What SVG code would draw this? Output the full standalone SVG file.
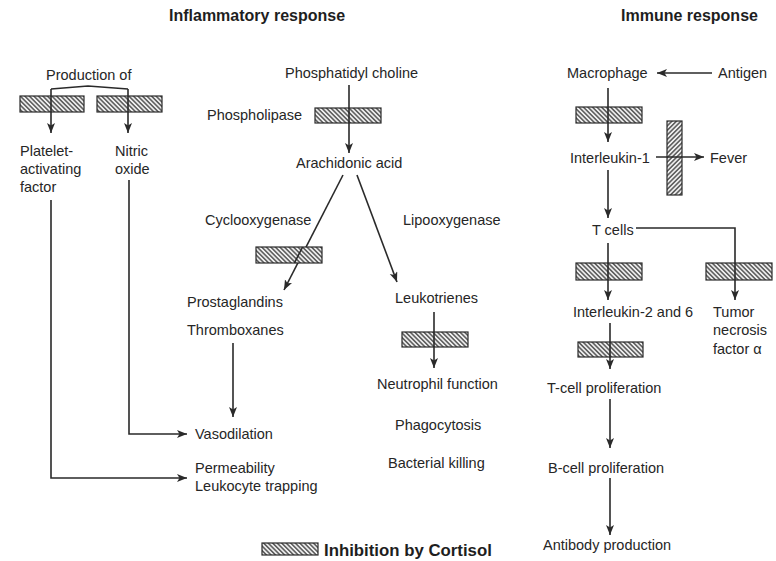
<svg xmlns="http://www.w3.org/2000/svg" width="776" height="561" viewBox="0 0 776 561">
  <style>
    .t { font-family: "Liberation Sans", Arial, sans-serif; font-size: 14.5px; fill: #262626; }
    .h { font-family: "Liberation Sans", Arial, sans-serif; font-size: 16px; font-weight: bold; fill: #1e1e1e; }
    .ln { fill: none; stroke: #2a2a2a; stroke-width: 1.6; }
    .arr { fill: none; stroke: #2a2a2a; stroke-width: 1.6; marker-end: url(#head); }
    .blk { fill: url(#hatch); stroke: #2a2a2a; stroke-width: 1.2; }
    .blkv { fill: url(#hatchv); stroke: #2a2a2a; stroke-width: 1.2; }
  </style>
  <defs>
    <pattern id="hatch" patternUnits="userSpaceOnUse" width="3.2" height="3.2" patternTransform="rotate(-45)">
      <rect width="3.2" height="3.2" fill="#eeeeee"/>
      <line x1="0.8" y1="0" x2="0.8" y2="3.2" stroke="#333333" stroke-width="1.2"/>
    </pattern>
    <pattern id="hatchv" patternUnits="userSpaceOnUse" width="3.2" height="3.2" patternTransform="rotate(45)">
      <rect width="3.2" height="3.2" fill="#eeeeee"/>
      <line x1="0.8" y1="0" x2="0.8" y2="3.2" stroke="#333333" stroke-width="1.2"/>
    </pattern>
    <marker id="head" markerUnits="userSpaceOnUse" markerWidth="12" markerHeight="10" refX="10" refY="4" orient="auto">
      <path d="M0,0 L10,4 L0,8 L2.5,4 Z" fill="#2a2a2a"/>
    </marker>
  </defs>

  <rect width="776" height="561" fill="#ffffff"/>

  <!-- section headings -->
  <text class="h" x="169" y="21">Inflammatory response</text>
  <text class="h" x="621" y="21">Immune response</text>

  <!-- connectors -->
  <g id="connectors">
    <!-- production of PAF / NO -->
    <path class="arr" d="M51,89 V133"/>
    <path class="arr" d="M128,89 V133"/>
    <path class="ln" d="M51,89 L88,86 L128,89"/>
    <path class="arr" d="M51,200 V478 H187"/>
    <path class="arr" d="M129,180 V434 H187"/>
    <!-- arachidonic acid cascade -->
    <path class="arr" d="M349,85 V153"/>
    <path class="arr" d="M343,175 L284,290"/>
    <path class="arr" d="M357,175 L397,282"/>
    <path class="arr" d="M233,343 V417"/>
    <path class="arr" d="M434,312 V368"/>
    <!-- immune cascade -->
    <path class="arr" d="M712,73 H657"/>
    <path class="arr" d="M608,88 V142"/>
    <path class="arr" d="M656,157 H704"/>
    <path class="arr" d="M608,170 V218"/>
    <path class="arr" d="M608,243 V300"/>
    <path class="arr" d="M636,228 H735 V300"/>
    <path class="arr" d="M610,323 V369"/>
    <path class="arr" d="M610,399 V448"/>
    <path class="arr" d="M610,478 V535"/>
  </g>

  <!-- cortisol blocks (drawn over the lines they cross) -->
  <g id="blocks">
    <rect class="blk" x="20" y="96" width="64" height="16"/>
    <rect class="blk" x="97" y="96" width="65" height="16"/>
    <rect class="blk" x="315" y="108" width="66" height="15"/>
    <rect class="blk" x="256" y="247" width="66" height="16"/>
    <rect class="blk" x="402" y="332" width="66" height="15"/>
    <rect class="blk" x="576" y="107" width="66" height="16"/>
    <rect class="blkv" x="667" y="121" width="15" height="74"/>
    <rect class="blk" x="576" y="263" width="66" height="17"/>
    <rect class="blk" x="706" y="263" width="66" height="17"/>
    <rect class="blk" x="578" y="342" width="65" height="15"/>
  </g>
  <!-- redraw crossing segments on top of blocks -->
  <g id="crossings">
    <path class="ln" d="M51,96 V112 M128,96 V112 M349,108 V123 M434,332 V347 M608,107 V123 M608,263 V280 M735,263 V280 M610,342 V357 M667,157 H682"/>
    <path class="ln" d="M302.6,247 L294.4,263"/>
  </g>

  <!-- inflammatory response nodes -->
  <g id="production"><text class="t" x="46" y="80">Production of</text></g>
  <g id="paf">
    <text class="t" x="20" y="156">Platelet-</text>
    <text class="t" x="20" y="174">activating</text>
    <text class="t" x="20" y="192">factor</text>
  </g>
  <g id="no">
    <text class="t" x="115" y="156">Nitric</text>
    <text class="t" x="115" y="174">oxide</text>
  </g>
  <g id="pc"><text class="t" x="285" y="78">Phosphatidyl choline</text></g>
  <g id="phospholipase"><text class="t" x="207" y="120">Phospholipase</text></g>
  <g id="aa"><text class="t" x="296" y="168">Arachidonic acid</text></g>
  <g id="cox"><text class="t" x="205" y="225">Cyclooxygenase</text></g>
  <g id="lox"><text class="t" x="403" y="225">Lipooxygenase</text></g>
  <g id="pg">
    <text class="t" x="187" y="307">Prostaglandins</text>
    <text class="t" x="187" y="335">Thromboxanes</text>
  </g>
  <g id="lt"><text class="t" x="395" y="303">Leukotrienes</text></g>
  <g id="neutrophil"><text class="t" x="377" y="389">Neutrophil function</text></g>
  <g id="phago"><text class="t" x="395" y="430">Phagocytosis</text></g>
  <g id="killing"><text class="t" x="388" y="468">Bacterial killing</text></g>
  <g id="vaso"><text class="t" x="195" y="439">Vasodilation</text></g>
  <g id="perm">
    <text class="t" x="195" y="473">Permeability</text>
    <text class="t" x="195" y="491">Leukocyte trapping</text>
  </g>

  <!-- immune response nodes -->
  <g id="macrophage"><text class="t" x="567" y="78">Macrophage</text></g>
  <g id="antigen"><text class="t" x="718" y="78">Antigen</text></g>
  <g id="il1"><text class="t" x="570" y="163">Interleukin-1</text></g>
  <g id="fever"><text class="t" x="710" y="163">Fever</text></g>
  <g id="tcells"><text class="t" x="592" y="235">T cells</text></g>
  <g id="il26"><text class="t" x="573" y="317">Interleukin-2 and 6</text></g>
  <g id="tnf">
    <text class="t" x="713" y="317">Tumor</text>
    <text class="t" x="713" y="335">necrosis</text>
    <text class="t" x="713" y="354">factor α</text>
  </g>
  <g id="tprolif"><text class="t" x="547" y="393">T-cell proliferation</text></g>
  <g id="bprolif"><text class="t" x="548" y="473">B-cell proliferation</text></g>
  <g id="antibody"><text class="t" x="543" y="550">Antibody production</text></g>

  <!-- legend -->
  <g id="legend">
    <rect class="blk" x="262" y="543" width="56" height="12"/>
    <text class="h" x="324" y="556" style="font-size:16.8px">Inhibition by Cortisol</text>
  </g>
</svg>
